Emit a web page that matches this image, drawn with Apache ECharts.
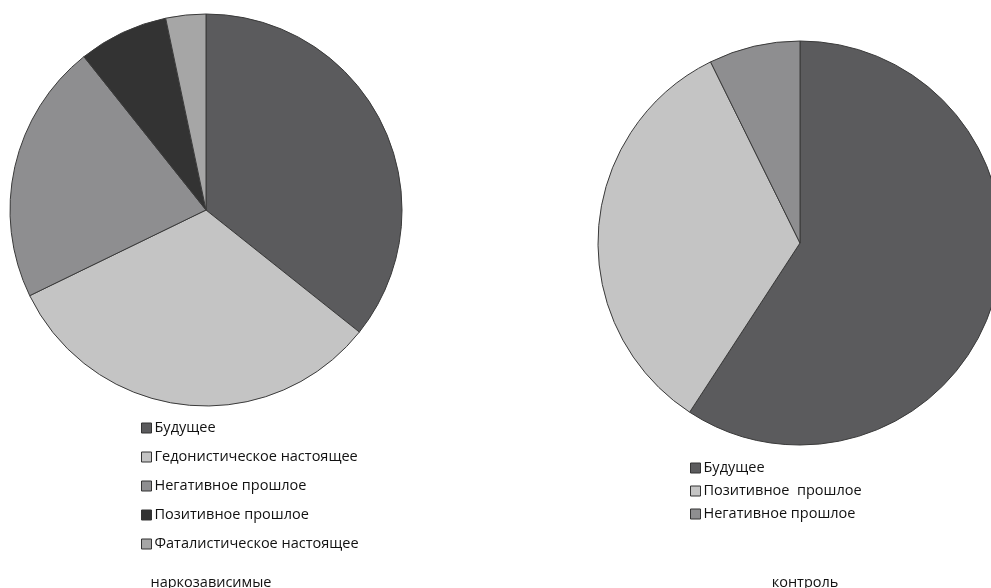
<!DOCTYPE html>
<html><head><meta charset="utf-8">
<script src="https://cdn.jsdelivr.net/npm/echarts@6/dist/echarts.min.js"></script>
<style>html,body{margin:0;padding:0;background:#fff}#c{width:991px;height:588px}</style>
</head><body><div id="c"></div>
<script>
const leftNames = ['Будущее','Гедонистическое настоящее','Негативное прошлое','Позитивное прошлое','Фаталистическое настоящее'];
const leftValues = [35.7, 32.1, 21.5, 7.4, 3.3];
const leftColors = ['#5b5b5d','#c4c4c4','#8e8e90','#333333','#a6a6a6'];
const rightNames = ['Будущее','Позитивное  прошлое','Негативное прошлое'];
const rightValues = [59.2, 33.5, 7.3];
const rightColors = ['#5b5b5d','#c4c4c4','#8e8e90'];
const titleLeft = 'наркозависимые';
const titleRight = 'контроль';

const font = '"Open Sans", "Liberation Sans", sans-serif';
const chart = echarts.init(document.getElementById('c'));
function mk(names, vals, colors){
  return names.map((n,i)=>({name:n, value:vals[i], itemStyle:{color:colors[i]}}));
}
const legendCommon = {
  orient:'vertical', icon:'rect', itemWidth:10, itemHeight:10,
  itemStyle:{borderColor:'#333', borderWidth:1},
  textStyle:{fontFamily:font, fontSize:14.5, color:'#111', padding:[0,0,0,-2], lineHeight:16},
  selectedMode:false, padding:0
};
chart.setOption({
  animation:false,
  title:[
    {text:titleLeft, left:206, top:570, textAlign:'center', textStyle:{fontFamily:font, fontSize:14.5, fontWeight:'normal', color:'#111'}},
    {text:titleRight, left:800, top:570, textAlign:'center', textStyle:{fontFamily:font, fontSize:14.5, fontWeight:'normal', color:'#111'}}
  ],
  legend:[
    Object.assign({}, legendCommon, {left:141, top:420, itemGap:13, data:leftNames}),
    Object.assign({}, legendCommon, {left:690, top:460, itemGap:7, data:rightNames})
  ],
  series:[
    {type:'pie', center:[206,210], radius:196, startAngle:90, clockwise:true,
     label:{show:false}, labelLine:{show:false}, emphasis:{disabled:true},
     itemStyle:{borderColor:'#3a3a3a', borderWidth:1},
     data:mk(leftNames,leftValues,leftColors)},
    {type:'pie', center:[800,243], radius:202, startAngle:90, clockwise:true,
     label:{show:false}, labelLine:{show:false}, emphasis:{disabled:true},
     itemStyle:{borderColor:'#3a3a3a', borderWidth:1},
     data:mk(rightNames,rightValues,rightColors)}
  ]
});
</script></body></html>
